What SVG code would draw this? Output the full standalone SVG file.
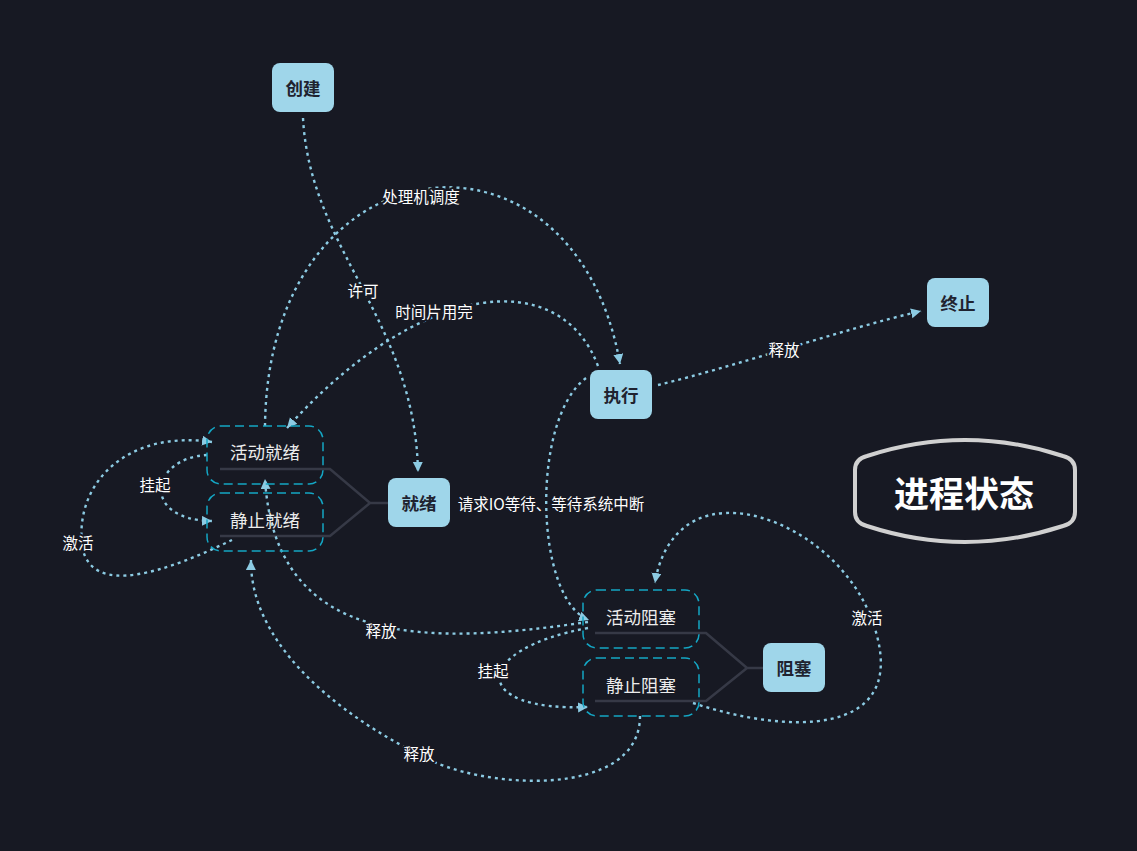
<svg xmlns="http://www.w3.org/2000/svg" width="1137" height="851" viewBox="0 0 1137 851">
<defs>
<style>
.bg{fill:#171923}
.main rect{fill:#9fd6ea;rx:8px}
.main text{font-family:"Noto Sans CJK SC","Noto Sans",sans-serif;font-size:17.5px;font-weight:600;fill:#1f2330;text-anchor:middle;dominant-baseline:central}
.sub rect{fill:none;stroke:#14a6c4;stroke-width:1.5;stroke-dasharray:9 5;rx:14px}
.sub text{font-family:"Noto Sans CJK SC","Noto Sans",sans-serif;font-size:17.5px;fill:#ececec;text-anchor:middle;dominant-baseline:central}
.br{fill:none;stroke:#363946;stroke-width:2.5}
.e{fill:none;stroke:#8ccbe3;stroke-width:2.4;stroke-dasharray:3 4;marker-end:url(#ah)}
.lbl{font-family:"Noto Sans CJK SC","Noto Sans",sans-serif;font-size:15.5px;fill:#ffffff;text-anchor:middle;dominant-baseline:central;stroke:#171923;stroke-width:4;paint-order:stroke;stroke-linejoin:round}
</style>
<marker id="ah" markerWidth="12" markerHeight="12" refX="10" refY="5" orient="auto" markerUnits="userSpaceOnUse">
<path d="M0,0 L10,5 L0,10 Z" fill="#8ccbe3"/>
</marker>
</defs>
<rect class="bg" x="0" y="0" width="1137" height="851"/>

<g id="branches">
<path class="br" d="M220,469 L330,469 L370,503 L388,503 M220,536 L330,536 L370,503"/>
<path class="br" d="M595,633 L706,633 L747,668 L763,668 M595,701 L706,701 L747,668"/>
</g>

<g id="connectors">
<path class="e" d="M303,118 C 310,250 415,320 418,472"/>
<path class="e" d="M265,426 C 268,135 575,105 620,364"/>
<path class="e" d="M598,366 C 560,265 420,280 287,428"/>
<path class="e" d="M658,385 C 740,365 840,330 921,311"/>
<path class="e" d="M586,378 C 530,420 535,600 589,620"/>
<path class="e" d="M588,628 C 470,650 470,712 588,707"/>
<path class="e" d="M588,622 C 430,645 275,650 265,479"/>
<path class="e" d="M640,716 C 640,800 480,790 420,755 C 330,710 250,640 251,560"/>
<path class="e" d="M207,455 C 150,458 140,520 212,521"/>
<path class="e" d="M232,540 C 170,570 90,600 82,545 C 75,480 130,430 212,442"/>
<path class="e" d="M693,703 C 790,735 900,735 878,640 C 860,560 780,510 725,513 C 680,515 660,550 655,583"/>
</g>

<g id="labels">
<text class="lbl" x="421" y="196">处理机调度</text>
<text class="lbl" x="363" y="290">许可</text>
<text class="lbl" x="434" y="311">时间片用完</text>
<text class="lbl" x="784" y="349">释放</text>
<text class="lbl" x="551" y="503">请求IO等待、等待系统中断</text>
<text class="lbl" x="155" y="484">挂起</text>
<text class="lbl" x="78" y="542">激活</text>
<text class="lbl" x="381" y="630">释放</text>
<text class="lbl" x="493" y="670">挂起</text>
<text class="lbl" x="867" y="617">激活</text>
<text class="lbl" x="419" y="753">释放</text>
</g>

<g id="node-create" class="main"><rect x="272" y="63" width="62" height="49"/><text x="303" y="87">创建</text></g>
<g id="node-run" class="main"><rect x="590" y="370" width="62" height="49"/><text x="621" y="394">执行</text></g>
<g id="node-end" class="main"><rect x="927" y="278" width="62" height="49"/><text x="958" y="302">终止</text></g>
<g id="node-ready" class="main"><rect x="388" y="478" width="62" height="49"/><text x="419" y="502">就绪</text></g>
<g id="node-block" class="main"><rect x="763" y="643" width="62" height="49"/><text x="794" y="667">阻塞</text></g>

<g id="node-active-ready" class="sub"><rect x="207" y="426" width="116" height="58"/><text x="265" y="451">活动就绪</text></g>
<g id="node-static-ready" class="sub"><rect x="207" y="493" width="116" height="58"/><text x="265" y="519">静止就绪</text></g>
<g id="node-active-block" class="sub"><rect x="583" y="590" width="116" height="58"/><text x="641" y="616">活动阻塞</text></g>
<g id="node-static-block" class="sub"><rect x="583" y="658" width="116" height="58"/><text x="641" y="684">静止阻塞</text></g>

<g id="title">
<path d="M855,470 Q855,459 867,456 Q965,424 1063,456 Q1075,459 1075,470 L1075,512 Q1075,523 1063,526 Q965,558 867,526 Q855,523 855,512 Z" fill="#171923" stroke="#d0d0d0" stroke-width="4"/>
<text x="964" y="491" font-family="'Noto Sans CJK SC','Noto Sans',sans-serif" font-size="35" font-weight="700" fill="#ffffff" text-anchor="middle" dominant-baseline="central">进程状态</text>
</g>
</svg>
